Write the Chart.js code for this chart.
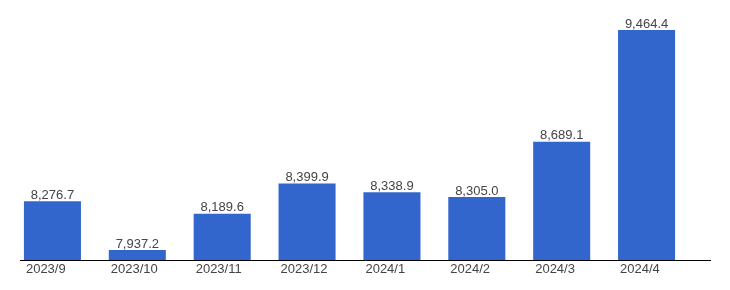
<!DOCTYPE html>
<html>
<head>
<meta charset="utf-8">
<script src="https://cdn.jsdelivr.net/npm/chart.js@4"></script>
<style>
  body { margin: 0; background: #fff; }
  #wrap { width: 730px; height: 290px; }
</style>
</head>
<body>
<div id="wrap"><canvas id="barChart" width="730" height="290"></canvas></div>
<script>
// chart data
const months = ['2023/9', '2023/10', '2023/11', '2023/12', '2024/1', '2024/2', '2024/3', '2024/4'];
const values = [8276.7, 7937.2, 8189.6, 8399.9, 8338.9, 8305.0, 8689.1, 9464.4];
const yRange = [7868, 9673];

const fmt = v => v.toLocaleString('en-US', { minimumFractionDigits: 1, maximumFractionDigits: 1 });
const textFont = '13px "Liberation Sans", Arial, sans-serif';

// value labels, category labels and the baseline
const labelsPlugin = {
  id: 'labels',
  afterDatasetsDraw(chart) {
    const ctx = chart.ctx;
    const meta = chart.getDatasetMeta(0);
    const area = chart.chartArea;
    ctx.save();
    ctx.font = textFont;
    ctx.fillStyle = '#444';
    ctx.textBaseline = 'alphabetic';
    meta.data.forEach((bar, i) => {
      ctx.textAlign = 'center';
      ctx.fillText(fmt(values[i]), bar.x, bar.y - 2.5);
      ctx.textAlign = 'left';
      ctx.fillText(months[i], bar.x - bar.width / 2 + 2, area.bottom + 13);
    });
    ctx.strokeStyle = '#000';
    ctx.lineWidth = 1;
    ctx.beginPath();
    ctx.moveTo(area.left + 10, area.bottom + 0.5);
    ctx.lineTo(area.right + 22, area.bottom + 0.5);
    ctx.stroke();
    ctx.restore();
  }
};

const ctx = document.getElementById('barChart').getContext('2d');
new Chart(ctx, {
  type: 'bar',
  data: {
    labels: months,
    datasets: [{
      data: values,
      backgroundColor: '#3366cc',
      categoryPercentage: 1,
      barPercentage: 0.672
    }]
  },
  options: {
    responsive: false,
    animation: false,
    layout: { padding: { left: 10, right: 41, top: 0, bottom: 30 } },
    plugins: {
      legend: { display: false },
      tooltip: { enabled: false }
    },
    scales: {
      x: { display: false },
      y: { display: false, min: yRange[0], max: yRange[1] }
    }
  },
  plugins: [labelsPlugin]
});
</script>
</body>
</html>
